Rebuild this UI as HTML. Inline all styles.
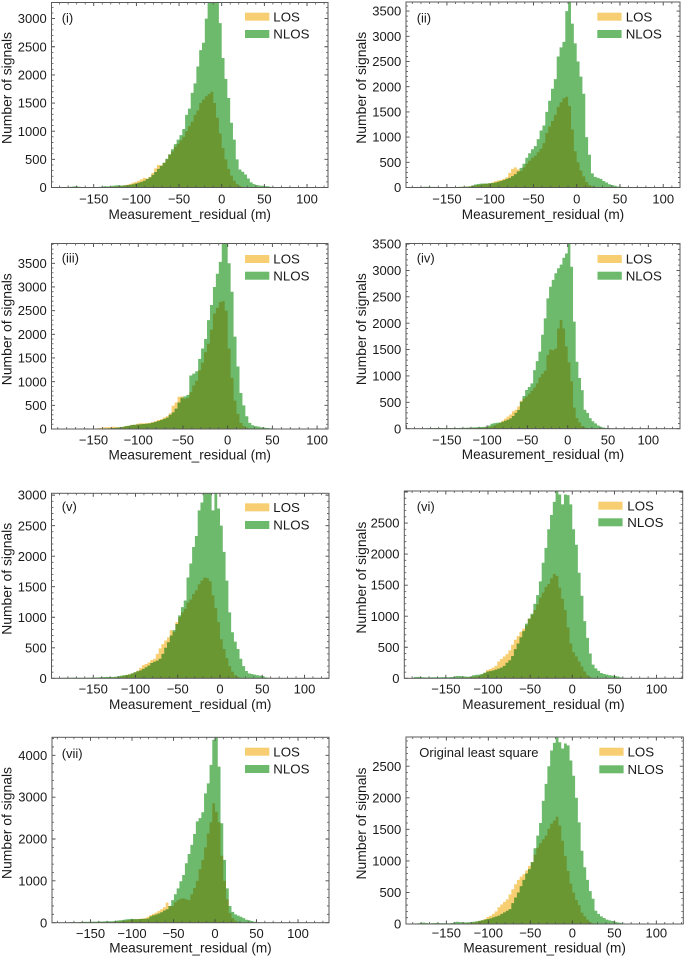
<!DOCTYPE html>
<html lang="en">
<head>
<meta charset="utf-8">
<title>Measurement residual histograms</title>
<style>
html,body{margin:0;padding:0;background:#fff;}
svg{display:block;font-family:"Liberation Sans",Arial,sans-serif;fill:#1a1a1a;filter:blur(0.3px);}
</style>
</head>
<body>
<svg id="figure" width="685" height="957" viewBox="0 0 685 957" xmlns="http://www.w3.org/2000/svg"><rect x="0" y="0" width="685" height="957" fill="#fff"/></svg>
<script>
// Histogram bins: left edge of the first bin and shared bin width, in metres.
const binStart = -188.1;
const binWidth = 3.3;

const xTickValues = [-150, -100, -50, 0, 50, 100];
const yTicksA = [0, 500, 1000, 1500, 2000, 2500, 3000];
const yTicksB = [0, 500, 1000, 1500, 2000, 2500, 3000, 3500];
const yTicksC = [0, 1000, 2000, 3000, 4000];
const yTicksD = [0, 500, 1000, 1500, 2000, 2500];

const seriesNames = ["LOS", "NLOS"];
const panelTitles = ["(i)", "(ii)", "(iii)", "(iv)", "(v)", "(vi)", "(vii)", "Original least square"];

const los1 = [3,3,3,4,4,4,5,5,4,4,4,5,5,6,7,8,10,12,14,18,22,30,38,48,65,85,100,120,145,170,160,190,260,340,400,395,440,500,580,640,725,780,840,900,1000,1090,1170,1290,1370,1500,1560,1620,1660,1700,1500,1240,960,700,500,330,210,120,60,25,12,6,3,2,1,1,0,0,0,0,0,0,0];
const nlos1 = [8,10,12,14,20,22,14,10,8,6,6,6,8,12,16,24,20,22,30,38,42,34,40,42,50,58,70,85,100,120,150,180,225,275,330,385,440,510,590,680,770,850,930,1040,1290,1400,1680,1850,2150,2440,2570,3000,3330,3340,3300,3280,2920,2300,1930,1590,1150,850,500,320,280,230,160,90,60,45,35,30,25,22,12,5,2];

const los2 = [2,2,3,3,3,3,4,4,4,4,5,5,6,7,8,10,12,14,18,22,30,40,50,60,70,75,85,100,125,140,150,170,200,290,370,400,360,330,400,470,530,590,630,700,770,880,1080,1210,1320,1440,1600,1690,1770,1800,1620,1150,720,500,340,220,110,50,25,12,5,3,2,1,1,0,0,0,0,0,0,0,0];
const nlos2 = [5,5,8,14,16,14,12,12,10,8,8,6,6,8,10,12,14,14,18,22,40,60,70,78,80,80,85,90,100,115,130,150,170,190,225,265,320,390,470,590,680,760,820,960,1130,1230,1500,1720,1960,2150,2600,2780,2890,3500,3720,3250,2860,2500,2200,1860,1000,650,280,210,190,170,130,100,65,50,35,20,14,8,4,2,1];

const los3 = [0,0,0,0,1,1,1,2,3,4,6,8,12,22,30,34,38,44,48,40,36,48,62,70,86,90,110,122,118,125,130,145,165,190,205,240,270,330,490,560,680,690,640,660,780,920,1020,1240,1400,1620,1800,2100,2440,2560,2680,2700,2500,1700,1080,600,320,130,65,30,14,6,3,2,1,1,0,0,0,0,0,0,0];
const nlos3 = [0,0,1,1,1,1,2,4,14,14,8,6,6,10,10,12,14,18,22,28,34,44,60,70,84,90,95,100,105,112,120,135,150,170,190,215,240,300,350,430,560,660,690,720,1130,1170,1220,1480,1700,1900,2300,2620,3000,3280,3530,3950,3950,3500,2900,1950,1320,760,500,270,130,80,60,50,36,30,22,16,14,8,5,4,3];

const los4 = [0,0,0,0,1,1,1,1,2,2,2,3,3,3,4,4,5,6,7,8,9,10,12,14,16,20,24,30,45,65,85,110,150,190,230,270,330,360,420,530,570,610,660,720,780,860,970,1040,1100,1400,1500,1490,1520,1900,2060,1900,1560,1260,900,400,200,120,50,22,10,5,2,1,1,0,0,0,0,0,0,0,0];
const nlos4 = [0,2,4,6,8,10,12,14,14,14,12,12,12,14,14,14,16,16,18,20,22,24,28,30,32,34,40,60,95,105,112,118,130,150,170,195,240,300,354,510,620,733,790,860,1110,1280,1460,1780,2090,2470,2690,2820,2945,3040,3110,3240,3320,3700,3070,2030,1270,960,730,360,300,200,140,100,60,38,22,14,10,6,3,2,1];

const los5 = [2,2,3,3,3,4,4,4,4,5,5,6,6,7,8,9,10,12,14,18,24,32,42,55,65,80,100,125,170,215,235,260,300,320,400,490,560,620,670,790,760,920,1000,1080,1140,1240,1290,1380,1440,1540,1600,1650,1640,1590,1360,1150,920,640,480,330,200,110,50,20,10,5,3,2,1,0,0,0,0,0,0,0,0];
const nlos5 = [8,8,10,12,12,12,10,10,10,12,12,14,14,16,20,22,24,24,22,26,34,42,50,56,65,80,100,115,130,155,180,210,250,270,290,320,400,500,590,700,790,890,1030,1165,1275,1650,1880,2150,2330,2750,2880,3050,3050,3050,2750,3050,2780,2500,2070,1600,1080,755,600,480,320,200,120,80,70,60,50,44,35,16,10,5,3];

const los6 = [1,1,1,2,2,2,2,3,3,3,3,4,4,5,6,7,8,10,12,14,18,24,30,40,60,90,134,150,172,200,270,310,350,390,450,540,620,680,750,800,850,960,1020,1100,1190,1300,1380,1470,1520,1610,1680,1650,1460,1280,1100,820,560,420,350,270,190,110,50,15,8,4,2,1,1,0,0,0,0,0,0,0,0];
const nlos6 = [20,22,22,16,14,14,16,16,16,16,18,18,16,20,26,36,36,32,30,24,30,50,56,60,70,90,107,115,125,140,155,172,200,250,290,360,470,560,660,760,880,960,1040,1200,1340,1560,1860,2100,2400,2630,2840,3050,2960,2800,2960,2950,2800,2400,2150,1700,1330,920,650,400,220,160,120,85,70,60,50,44,38,30,14,6,3];

const los7 = [1,1,1,2,2,2,2,3,3,4,4,5,6,7,8,10,12,14,16,18,24,30,36,44,52,60,70,80,86,90,100,105,140,180,210,240,280,320,370,480,400,400,490,540,570,580,560,540,680,830,1000,1280,1500,1800,2130,2400,2850,2650,2400,1600,1000,560,230,110,50,20,8,3,1,0,0,0,0,0,0,0,0];
const nlos7 = [0,0,2,8,14,14,12,16,20,22,24,24,26,26,28,30,32,34,36,36,44,52,60,68,80,85,90,88,85,88,90,95,100,150,175,195,220,250,290,320,400,540,680,820,990,1140,1420,1640,1860,2120,2420,2500,2640,3090,3330,3770,4370,4460,3730,2375,1500,820,400,260,200,170,143,110,70,60,40,24,14,8,4,2,1];

const los8 = [2,2,2,2,3,3,3,3,3,4,4,4,5,5,6,7,8,10,12,14,18,24,35,50,60,80,110,130,160,200,265,310,350,390,470,550,630,700,750,790,850,920,980,1100,1210,1280,1340,1400,1510,1590,1640,1700,1560,1320,1080,840,640,500,380,300,180,120,70,30,12,6,3,2,1,0,0,0,0,0,0,0,0];
const nlos8 = [10,12,20,22,16,10,14,16,16,14,14,12,12,16,28,36,32,28,26,28,32,36,42,50,60,70,80,90,105,118,132,160,185,210,235,330,420,500,600,700,800,870,980,1200,1400,1600,1950,2220,2500,2750,2870,2960,2880,2780,2860,2830,2590,2350,2000,1610,1160,900,700,520,400,210,160,120,95,70,58,48,35,26,18,10,5];

// Layout only: axes rectangles, axis limits and legend/label placement.
const panelLayouts = [
 {l:51.5,r:328,t:2.5,b:187.5,xMin:-199.5,xMax:124.6,yMax:3286,yTicks:yTicksA,los:los1,nlos:nlos1,yLabelX:11.5,legX:245,legY1:12.7,legY2:30,legTextX:273.3,titleX:61.7,titleY:22.5,tickOff:16,xTitleOff:31.5},
 {l:406,r:680,t:2,b:187.5,xMin:-197.3,xMax:119.4,yMax:3680,yTicks:yTicksB,los:los2,nlos:nlos2,yLabelX:366,legX:597.3,legY1:12.7,legY2:30,legTextX:625.7,titleX:416.7,titleY:22.5,tickOff:16,xTitleOff:31.5},
 {l:51.5,r:328,t:243.5,b:429,xMin:-197,xMax:112.2,yMax:3918,yTicks:yTicksB,los:los3,nlos:nlos3,yLabelX:11.5,legX:245,legY1:255,legY2:271.7,legTextX:273.3,titleX:61.7,titleY:262.5,tickOff:15.7,xTitleOff:30.5},
 {l:406,r:680,t:243.5,b:428.7,xMin:-200.6,xMax:139.3,yMax:3510,yTicks:yTicksB,los:los4,nlos:nlos4,yLabelX:366,legX:597.5,legY1:255,legY2:271.7,legTextX:625.7,titleX:416.7,titleY:262.5,tickOff:15.7,xTitleOff:30.5},
 {l:51.5,r:329,t:493.3,b:678.3,xMin:-199.4,xMax:129,yMax:3030,yTicks:yTicksA,los:los5,nlos:nlos5,yLabelX:11.5,legX:245,legY1:503.3,legY2:521,legTextX:273.3,titleX:61.7,titleY:511,tickOff:15.4,xTitleOff:30.5},
 {l:404.3,r:682.7,t:491,b:678.3,xMin:-199.3,xMax:131,yMax:3016,yTicks:yTicksD,los:los6,nlos:nlos6,yLabelX:366,legX:598.3,legY1:501.7,legY2:518.3,legTextX:627.3,titleX:416.7,titleY:511,tickOff:15.4,xTitleOff:30.5},
 {l:52,r:329,t:737.3,b:922.7,xMin:-196.4,xMax:137.3,yMax:4430,yTicks:yTicksC,los:los7,nlos:nlos7,yLabelX:11.5,legX:245,legY1:747.7,legY2:765,legTextX:273.3,titleX:61.7,titleY:758,tickOff:15.3,xTitleOff:30},
 {l:406,r:683.3,t:737,b:924,xMin:-198,xMax:132.1,yMax:2963,yTicks:yTicksD,los:los8,nlos:nlos8,yLabelX:366,legX:599.3,legY1:747.7,legY2:765.3,legTextX:627.5,titleX:419.3,titleY:757,tickOff:13.7,xTitleOff:28.6}
];

const SVG_NS = "http://www.w3.org/2000/svg";
const figure = document.getElementById("figure");

function node(tag, parent) {
  const el = document.createElementNS(SVG_NS, tag);
  parent.appendChild(el);
  return el;
}

function label(parent, text, x, y, size, anchor) {
  const el = node("text", parent);
  el.setAttribute("x", x);
  el.setAttribute("y", y);
  el.setAttribute("font-size", size);
  el.setAttribute("text-anchor", anchor);
  el.textContent = text;
  return el;
}

function stairPath(values, xScale, yScale) {
  let d = "M" + xScale(binStart).toFixed(2) + " " + yScale(0).toFixed(2);
  values.forEach(function (v, i) {
    const x0 = xScale(binStart + i * binWidth).toFixed(2);
    const x1 = xScale(binStart + (i + 1) * binWidth).toFixed(2);
    const y = yScale(v).toFixed(2);
    d += "L" + x0 + " " + y + "L" + x1 + " " + y;
  });
  d += "L" + xScale(binStart + values.length * binWidth).toFixed(2) + " " + yScale(0).toFixed(2) + "Z";
  return d;
}

function drawSeries(group, values, color, name, clipId, xScale, yScale) {
  const path = node("path", group);
  
  
  path.setAttribute("d", stairPath(values, xScale, yScale));
  path.setAttribute("fill", color);
  path.setAttribute("clip-path", "url(#" + clipId + ")");
  path.style.mixBlendMode = "multiply";
}

panelLayouts.forEach(function (p, idx) {
  const xScale = function (v) { return p.l + (v - p.xMin) / (p.xMax - p.xMin) * (p.r - p.l); };
  const yScale = function (v) { return p.b - v / p.yMax * (p.b - p.t); };

  const g = node("g", figure);
  
  

  const clip = node("clipPath", g);
  const clipId = "axes-clip-" + idx;
  clip.setAttribute("id", clipId);
  const clipRect = node("rect", clip);
  clipRect.setAttribute("x", p.l);
  clipRect.setAttribute("y", p.t);
  clipRect.setAttribute("width", p.r - p.l);
  clipRect.setAttribute("height", p.b - p.t);

  const bars = node("g", g);
  
  
  bars.style.isolation = "isolate";
  drawSeries(bars, p.nlos, "#6dba6d", "nlos-histogram", clipId, xScale, yScale);
  drawSeries(bars, p.los, "#f7cf72", "los-histogram", clipId, xScale, yScale);

  // Ticks on all four sides, pointing inward.
  const majorLen = 3.5;
  const minorLen = 2;
  const yStep = p.yTicks[1] - p.yTicks[0];
  let major = "";
  let minor = "";
  for (let v = -200; v <= 150; v += 10) {
    if (v < p.xMin || v > p.xMax) continue;
    const x = xScale(v).toFixed(2);
    const len = v % 50 === 0 ? majorLen : minorLen;
    const seg = "M" + x + " " + p.b + "v" + (-len) + "M" + x + " " + p.t + "v" + len;
    if (v % 50 === 0) { major += seg; } else { minor += seg; }
  }
  for (let v = 0; v <= p.yMax; v += yStep / 5) {
    const y = yScale(v).toFixed(2);
    const isMajor = Math.abs(v / yStep - Math.round(v / yStep)) < 1e-6;
    const len = isMajor ? majorLen : minorLen;
    const seg = "M" + p.l + " " + y + "h" + len + "M" + p.r + " " + y + "h" + (-len);
    if (isMajor) { major += seg; } else { minor += seg; }
  }
  const minorTicks = node("path", g);
  
  
  minorTicks.setAttribute("d", minor);
  minorTicks.setAttribute("fill", "none");
  minorTicks.setAttribute("stroke", "#555");
  minorTicks.setAttribute("stroke-width", "0.8");
  const majorTicks = node("path", g);
  
  
  majorTicks.setAttribute("d", major);
  majorTicks.setAttribute("fill", "none");
  majorTicks.setAttribute("stroke", "#444");
  majorTicks.setAttribute("stroke-width", "0.9");

  const frame = node("rect", g);
  
  
  frame.setAttribute("x", p.l);
  frame.setAttribute("y", p.t);
  frame.setAttribute("width", p.r - p.l);
  frame.setAttribute("height", p.b - p.t);
  frame.setAttribute("fill", "none");
  frame.setAttribute("stroke", "#5a5a5a");
  frame.setAttribute("stroke-width", "1");

  xTickValues.forEach(function (v) {
    const text = (v < 0 ? "\u2212" + Math.abs(v) : String(v));
    const tick = label(g, text, xScale(v), p.b + p.tickOff, 13, "middle");
    
    
  });
  p.yTicks.forEach(function (v) {
    const tick = label(g, String(v), p.l - 4.8, yScale(v) + 4.6, 13, "end");
    
    
  });

  const xTitle = label(g, "Measurement_residual (m)", (p.l + p.r) / 2, p.b + p.xTitleOff, 13.6, "middle");
  
  

  const yMid = (p.t + p.b) / 2 - 7;
  const yTitle = label(g, "Number of signals", p.yLabelX, yMid, 13.9, "middle");
  
  
  yTitle.setAttribute("transform", "rotate(-90 " + p.yLabelX + " " + yMid + ")");

  const title = label(g, panelTitles[idx], p.titleX, p.titleY, 13, "start");
  
  

  const losSwatch = node("rect", g);
  
  
  losSwatch.setAttribute("x", p.legX);
  losSwatch.setAttribute("y", p.legY1);
  losSwatch.setAttribute("width", 24.3);
  losSwatch.setAttribute("height", 8);
  losSwatch.setAttribute("fill", "#f7cf72");
  const losText = label(g, seriesNames[0], p.legTextX, p.legY1 + 8.7, 13.3, "start");
  
  

  const nlosSwatch = node("rect", g);
  
  
  nlosSwatch.setAttribute("x", p.legX);
  nlosSwatch.setAttribute("y", p.legY2);
  nlosSwatch.setAttribute("width", 24.3);
  nlosSwatch.setAttribute("height", 8);
  nlosSwatch.setAttribute("fill", "#6dba6d");
  const nlosText = label(g, seriesNames[1], p.legTextX, p.legY2 + 8.7, 13.3, "start");
  
  
});
</script>
</body>
</html>
